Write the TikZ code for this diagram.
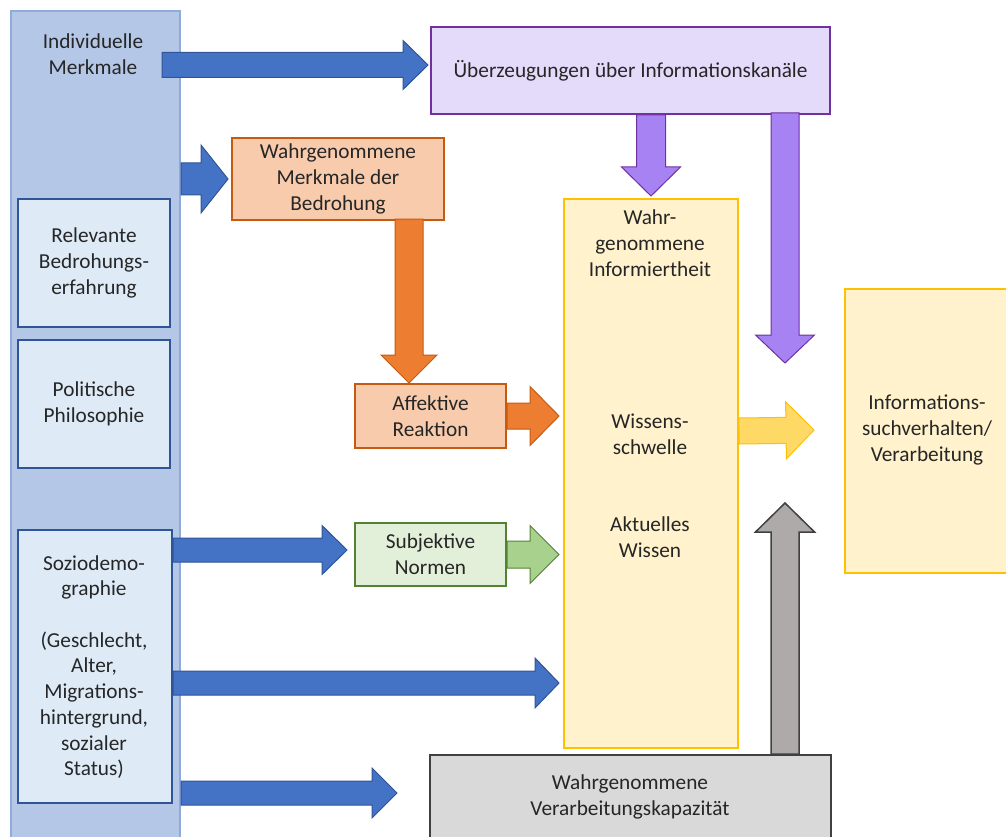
\documentclass[tikz,border=0pt]{standalone}
\usepackage{fontspec}
\setmainfont{Carlito}
\usetikzlibrary{calc}
\definecolor{txt}{HTML}{262626}
\definecolor{colfill}{HTML}{B4C7E7}
\definecolor{coldraw}{HTML}{8FAADC}
\definecolor{inFill}{HTML}{DEEBF7}
\definecolor{inDraw}{HTML}{2F5597}
\definecolor{purFill}{HTML}{E4DAFA}
\definecolor{purDraw}{HTML}{7030A0}
\definecolor{purArr}{HTML}{A682F2}
\definecolor{oraFill}{HTML}{F8CBAD}
\definecolor{oraDraw}{HTML}{C55A11}
\definecolor{oraArr}{HTML}{ED7D31}
\definecolor{grnFill}{HTML}{E2F0D9}
\definecolor{grnDraw}{HTML}{548235}
\definecolor{grnArr}{HTML}{A9D18E}
\definecolor{yelFill}{HTML}{FFF2CC}
\definecolor{yelDraw}{HTML}{FFC000}
\definecolor{yelArr}{HTML}{FFD966}
\definecolor{gryFill}{HTML}{D9D9D9}
\definecolor{gryDraw}{HTML}{404040}
\definecolor{gryArr}{HTML}{AEAAAA}
\definecolor{bluArr}{HTML}{4472C4}
\tikzset{
  lbl/.style={align=center, text=txt, font=\fontsize{21.3}{25.7}\selectfont, inner sep=0pt},
  box/.style={lbl, draw, line width=2pt, anchor=north west},
  inbox/.style={box, fill=inFill, draw=inDraw},
  purbox/.style={box, fill=purFill, draw=purDraw},
  orabox/.style={box, fill=oraFill, draw=oraDraw},
  grnbox/.style={box, fill=grnFill, draw=grnDraw},
  yelbox/.style={box, fill=yelFill, draw=yelDraw},
  grybox/.style={box, fill=gryFill, draw=gryDraw},
  bluearr/.style={fill=bluArr, draw=inDraw, line width=1pt},
  purarr/.style={fill=purArr, draw=purDraw, line width=1pt},
  oraarr/.style={fill=oraArr, draw=oraDraw, line width=1pt},
  grnarr/.style={fill=grnArr, draw=grnDraw, line width=1pt},
  yelarr/.style={fill=yelArr, draw=yelDraw, line width=1pt},
  gryarr/.style={fill=gryArr, draw=gryDraw, line width=1.5pt},
}
% #1 style, #2 start, #3 tip, #4 shaft half width, #5 head half width, #6 head length
\newcommand\blockarrow[6]{%
  \coordinate (bah) at ($(#3)!#6!(#2)$);
  \draw[#1] ($(#2)!#4!90:(#3)$) -- ($(bah)!#4!90:(#3)$) -- ($(bah)!#5!90:(#3)$) -- (#3)
    -- ($(bah)!#5!-90:(#3)$) -- ($(bah)!#4!-90:(#3)$) -- ($(#2)!#4!-90:(#3)$) -- cycle;}
\begin{document}
\begin{tikzpicture}[x=1pt,y=-1pt]
\useasboundingbox (0,0) rectangle (1006,837);
\clip (0,0) rectangle (1006,837);
% left column
\node[box, fill=colfill, draw=coldraw, minimum width=169, minimum height=840] (col) at (10,10) {};
\node[lbl] (indiv) at (93,54) {Individuelle\\Merkmale};
\node[inbox, minimum width=152, minimum height=128] (rel) at (17,198) {Relevante\\Bedrohungs-\\erfahrung};
\node[inbox, minimum width=152, minimum height=128] (pol) at (17,339) {Politische\\Philosophie};
\node[inbox, minimum width=154, minimum height=273] (soz) at (17,529) {};
\node[lbl] (soztxt) at (94,667) {Soziodemo-\\graphie\\\strut\\(Geschlecht,\\Alter,\\Migrations-\\hintergrund,\\sozialer\\Status)};
% other boxes
\node[purbox, minimum width=399, minimum height=87] (pur) at (430,26) {\"Uberzeugungen \"uber Informationskan\"ale};
\node[orabox, minimum width=212, minimum height=82] (ora) at (231,137) {Wahrgenommene\\Merkmale der\\Bedrohung};
\node[orabox, minimum width=151, minimum height=64] (aff) at (354,383) {Affektive\\Reaktion};
\node[grnbox, minimum width=151, minimum height=63] (sub) at (354,522) {Subjektive\\Normen};
\node[yelbox, minimum width=174, minimum height=549] (tall) at (563,198) {};
\node[lbl] (t1) at (650,243) {Wahr-\\genommene\\Informiertheit};
\node[lbl] (t2) at (650,434) {Wissens-\\schwelle};
\node[lbl] (t3) at (650,537) {Aktuelles\\Wissen};
\node[yelbox, minimum width=180, minimum height=284] (info) at (844,288) {};
\node[lbl] (infotxt) at (927,430) {Informations-\\suchverhalten/\\Verarbeitung};
\node[grybox, minimum width=401, minimum height=100] (gry) at (429,754) {};
\node[lbl] (grytxt) at (630,797) {Wahrgenommene\\Verarbeitungskapazit\"at};
% arrow end points
\coordinate (b1s) at (162,65);   \coordinate (b1e) at ($(pur.west |- b1s)+(-2,0)$);
\coordinate (b2s) at (col.east |- ora.west); \coordinate (b2e) at ($(ora.west)+(-3,0)$);
\coordinate (b3s) at (soz.east |- 0,550); \coordinate (b3e) at (347,550);
\coordinate (b4s) at (soz.east |- 0,683); \coordinate (b4e) at ($(tall.west |- b4s)+(-4,0)$);
\coordinate (b5s) at (col.east |- 0,793); \coordinate (b5e) at (397,793);
\coordinate (o1s) at (409,219); \coordinate (o1e) at (409,383);
\coordinate (o2s) at (aff.east); \coordinate (o2e) at ($(tall.west |- aff.east)+(-4,0)$);
\coordinate (g1s) at (sub.east); \coordinate (g1e) at ($(tall.west |- sub.east)+(-4,0)$);
\coordinate (p1s) at (tall.north |- pur.south); \coordinate (p1e) at ($(tall.north)+(0,-2)$);
\coordinate (p2s) at (785,113); \coordinate (p2e) at (785,363);
\coordinate (y1s) at (tall.east |- info.west); \coordinate (y1e) at (814,430);
\coordinate (r1s) at (785,754); \coordinate (r1e) at (785,503);
% arrows
\blockarrow{bluearr}{b1s}{b1e}{12.5pt}{24.5pt}{25pt}
\blockarrow{bluearr}{b2s}{b2e}{16pt}{34pt}{27pt}
\blockarrow{bluearr}{b3s}{b3e}{12pt}{24.5pt}{25pt}
\blockarrow{bluearr}{b4s}{b4e}{12pt}{25pt}{24pt}
\blockarrow{bluearr}{b5s}{b5e}{12pt}{25pt}{25pt}
\blockarrow{oraarr}{o1s}{o1e}{14pt}{28pt}{28pt}
\blockarrow{oraarr}{o2s}{o2e}{13pt}{29.5pt}{29pt}
\blockarrow{grnarr}{g1s}{g1e}{13.5pt}{29pt}{29pt}
\blockarrow{purarr}{p1s}{p1e}{14.5pt}{29.5pt}{29pt}
\blockarrow{purarr}{p2s}{p2e}{14pt}{29.5pt}{28pt}
\blockarrow{yelarr}{y1s}{y1e}{13pt}{28.5pt}{28pt}
\blockarrow{gryarr}{r1s}{r1e}{14pt}{29.5pt}{29pt}
\end{tikzpicture}
\end{document}
